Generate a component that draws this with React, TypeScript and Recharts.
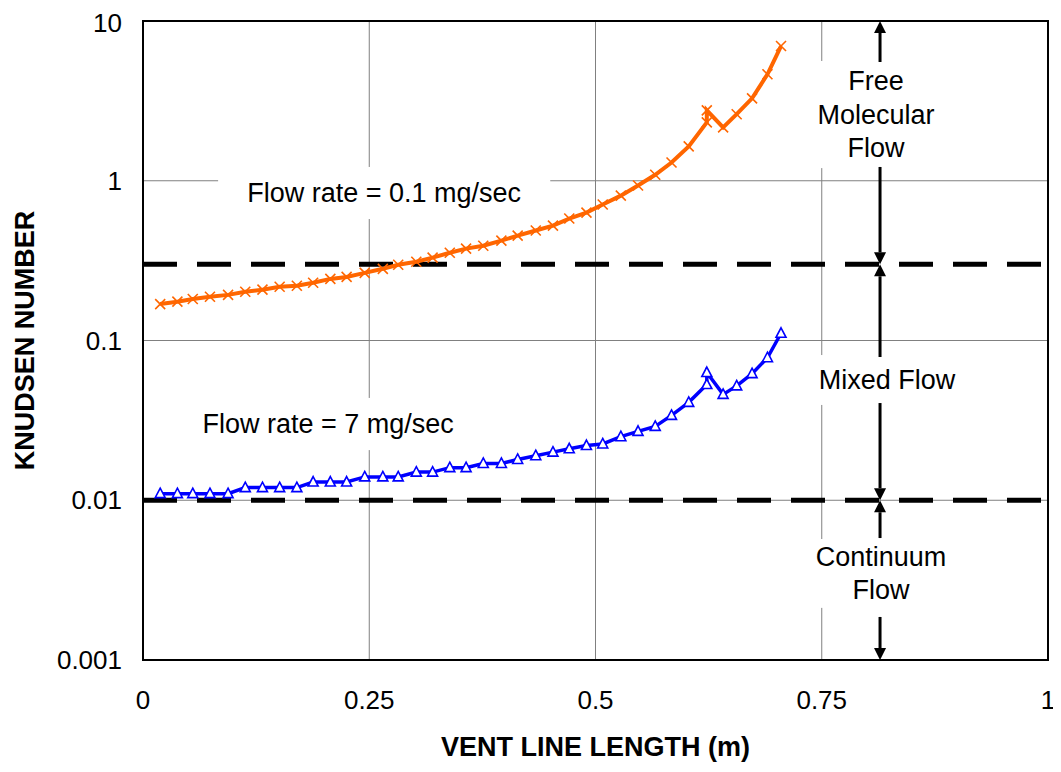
import {
  CartesianGrid,
  Label,
  Line,
  LineChart,
  ReferenceArea,
  ReferenceLine,
  XAxis,
  YAxis,
} from "recharts";

// vent line length (m), shared by both runs
const lengths = [
  0.019, 0.038, 0.055, 0.074, 0.094, 0.113, 0.132, 0.151, 0.17, 0.188,
  0.207, 0.225, 0.245, 0.265, 0.282, 0.302, 0.32, 0.339, 0.357, 0.376,
  0.396, 0.414, 0.434, 0.453, 0.471, 0.49, 0.508, 0.528, 0.547, 0.566,
  0.584, 0.603, 0.623, 0.623, 0.641, 0.656, 0.673, 0.69, 0.705,
];

// Knudsen number, flow rate = 0.1 mg/sec
const knLow = [
  0.169, 0.175, 0.182, 0.188, 0.193, 0.202, 0.208, 0.217, 0.22, 0.23,
  0.243, 0.25, 0.265, 0.281, 0.298, 0.311, 0.33, 0.354, 0.376, 0.392,
  0.422, 0.453, 0.488, 0.524, 0.58, 0.632, 0.71, 0.807, 0.934, 1.09,
  1.3, 1.64, 2.32, 2.76, 2.16, 2.61, 3.28, 4.64, 6.97,
];

// Knudsen number, flow rate = 7 mg/sec
const knHigh = [
  0.011, 0.011, 0.011, 0.011, 0.011, 0.012, 0.012, 0.012, 0.012, 0.013,
  0.013, 0.013, 0.014, 0.014, 0.014, 0.015, 0.015, 0.016, 0.016, 0.017,
  0.017, 0.018, 0.019, 0.02, 0.021, 0.022, 0.0225, 0.025, 0.027, 0.029,
  0.034, 0.041, 0.053, 0.063, 0.046, 0.052, 0.062, 0.078, 0.111,
];

const xTicks = [0, 0.25, 0.5, 0.75, 1];
const yTicks = [0.001, 0.01, 0.1, 1, 10];

// regime limits
const regimeLimits = [0.3, 0.01];

const data = lengths.map((x, i) => ({ x, low: knLow[i], high: knHigh[i] }));

// text boxes (white background, hides grid)
const boxes = [
  { x1: 0.083, x2: 0.45, y1: 0.576, y2: 1.22, lines: ["Flow rate = 0.1 mg/sec"] },
  { x1: 0.041, x2: 0.368, y1: 0.0206, y2: 0.0437, lines: ["Flow rate = 7 mg/sec"] },
  { x1: 0.727, x2: 0.893, y1: 1.2, y2: 5.62, lines: ["Free", "Molecular", "Flow"] },
  { x1: 0.734, x2: 0.91, y1: 0.0395, y2: 0.0811, lines: ["Mixed Flow"] },
  { x1: 0.733, x2: 0.898, y1: 0.00212, y2: 0.00572, lines: ["Continuum", "Flow"] },
];

const arrowX = 0.8144;
const arrows = [
  { from: 5.54, to: 10 },
  { from: 1.22, to: 0.3 },
  { from: 0.0788, to: 0.3 },
  { from: 0.0406, to: 0.01 },
  { from: 0.0058, to: 0.01 },
  { from: 0.00186, to: 0.001 },
];

const FONT = "'Liberation Sans', Arial, sans-serif";

function TextBox(lines: string[]) {
  return (p: any) => {
    const cx = p.x + p.width / 2;
    const cy = p.y + p.height / 2;
    const lh = 33.5;
    return (
      <g>
        <rect x={p.x} y={p.y} width={p.width} height={p.height} fill="#fff" />
        {lines.map((t, i) => (
          <text
            key={t}
            x={cx}
            y={cy - ((lines.length - 1) * lh) / 2 + i * lh}
            textAnchor="middle"
            dominantBaseline="central"
            fontSize={27}
            fontFamily={FONT}
            fill="#000"
          >
            {t}
          </text>
        ))}
      </g>
    );
  };
}

function Arrow(p: any) {
  const { x1, y1, x2, y2 } = p;
  const dir = y2 > y1 ? 1 : -1;
  const head = 12;
  return (
    <g>
      <line x1={x1} y1={y1} x2={x2} y2={y2 - dir * head} stroke="#000" strokeWidth={3} />
      <polygon
        points={`${x2},${y2} ${x2 - 6},${y2 - dir * head} ${x2 + 6},${y2 - dir * head}`}
        fill="#000"
      />
    </g>
  );
}

function Cross(p: any) {
  const { cx, cy, index } = p;
  if (cx == null || cy == null) return <g key={`c${index}`} />;
  const s = 5;
  return (
    <path
      key={`c${index}`}
      d={`M${cx - s},${cy - s}L${cx + s},${cy + s}M${cx - s},${cy + s}L${cx + s},${cy - s}`}
      stroke="#FF6600"
      strokeWidth={1.6}
      fill="none"
    />
  );
}

function Tri(p: any) {
  const { cx, cy, index } = p;
  if (cx == null || cy == null) return <g key={`t${index}`} />;
  return (
    <path
      key={`t${index}`}
      d={`M${cx},${cy - 5.5}L${cx + 5},${cy + 4}L${cx - 5},${cy + 4}Z`}
      stroke="#0000FF"
      strokeWidth={1.6}
      fill="#fff"
    />
  );
}

export default function App() {
  return (
    <div style={{ fontFamily: FONT }}>
      <LineChart
        width={1053}
        height={756}
        data={data}
        margin={{ top: 13, right: 13, left: 0, bottom: 0 }}
        style={{ fontFamily: FONT }}
      >
        <CartesianGrid stroke="#808080" strokeWidth={1} />
        <XAxis
          dataKey="x"
          type="number"
          domain={[0, 1]}
          ticks={xTicks}
          tickFormatter={(v) => String(v)}
          height={104}
          axisLine={false}
          tickLine={false}
          tickSize={0}
          tickMargin={31}
          tick={{ fill: "#000", fontSize: 26, fontFamily: FONT }}
        >
          <Label
            content={({ viewBox }: any) => (
              <text
                x={viewBox.x + viewBox.width / 2}
                y={viewBox.y + 87}
                textAnchor="middle"
                dominantBaseline="central"
                fontSize={27}
                fontWeight="bold"
                fontFamily={FONT}
                fill="#000"
              >
                VENT LINE LENGTH (m)
              </text>
            )}
          />
        </XAxis>
        <YAxis
          type="number"
          scale="log"
          domain={[0.001, 10]}
          ticks={yTicks}
          allowDataOverflow
          tickFormatter={(v) => String(v)}
          width={135}
          axisLine={false}
          tickLine={false}
          tickSize={0}
          tickMargin={21}
          tick={{ fill: "#000", fontSize: 26, fontFamily: FONT }}
        >
          <Label
            content={({ viewBox }: any) => {
              const x = viewBox.x + 17;
              const y = viewBox.y + viewBox.height / 2;
              return (
                <text
                  x={x}
                  y={y}
                  transform={`rotate(-90 ${x} ${y})`}
                  textAnchor="middle"
                  dominantBaseline="central"
                  fontSize={27}
                  fontWeight="bold"
                  fontFamily={FONT}
                  fill="#000"
                >
                  KNUDSEN NUMBER
                </text>
              );
            }}
          />
        </YAxis>

        {boxes.map((b, i) => (
          <ReferenceArea
            key={i}
            x1={b.x1}
            x2={b.x2}
            y1={b.y1}
            y2={b.y2}
            shape={TextBox(b.lines)}
          />
        ))}

        <ReferenceArea
          x1={0}
          x2={1}
          y1={0.001}
          y2={10}
          fill="none"
          fillOpacity={0}
          stroke="#000"
          strokeWidth={2}
        />

        {regimeLimits.map((v) => (
          <ReferenceLine
            key={v}
            y={v}
            stroke="#000"
            strokeWidth={5}
            strokeDasharray="34 20"
            zIndex={350}
          />
        ))}

        {arrows.map((a, i) => (
          <ReferenceLine
            key={`a${i}`}
            segment={[
              { x: arrowX, y: a.from },
              { x: arrowX, y: a.to },
            ]}
            shape={Arrow}
          />
        ))}

        <Line
          dataKey="low"
          type="linear"
          stroke="#FF6600"
          strokeWidth={4}
          dot={Cross}
          activeDot={false}
          isAnimationActive={false}
        />
        <Line
          dataKey="high"
          type="linear"
          stroke="#0000FF"
          strokeWidth={3.5}
          dot={Tri}
          activeDot={false}
          isAnimationActive={false}
        />
      </LineChart>
    </div>
  );
}
